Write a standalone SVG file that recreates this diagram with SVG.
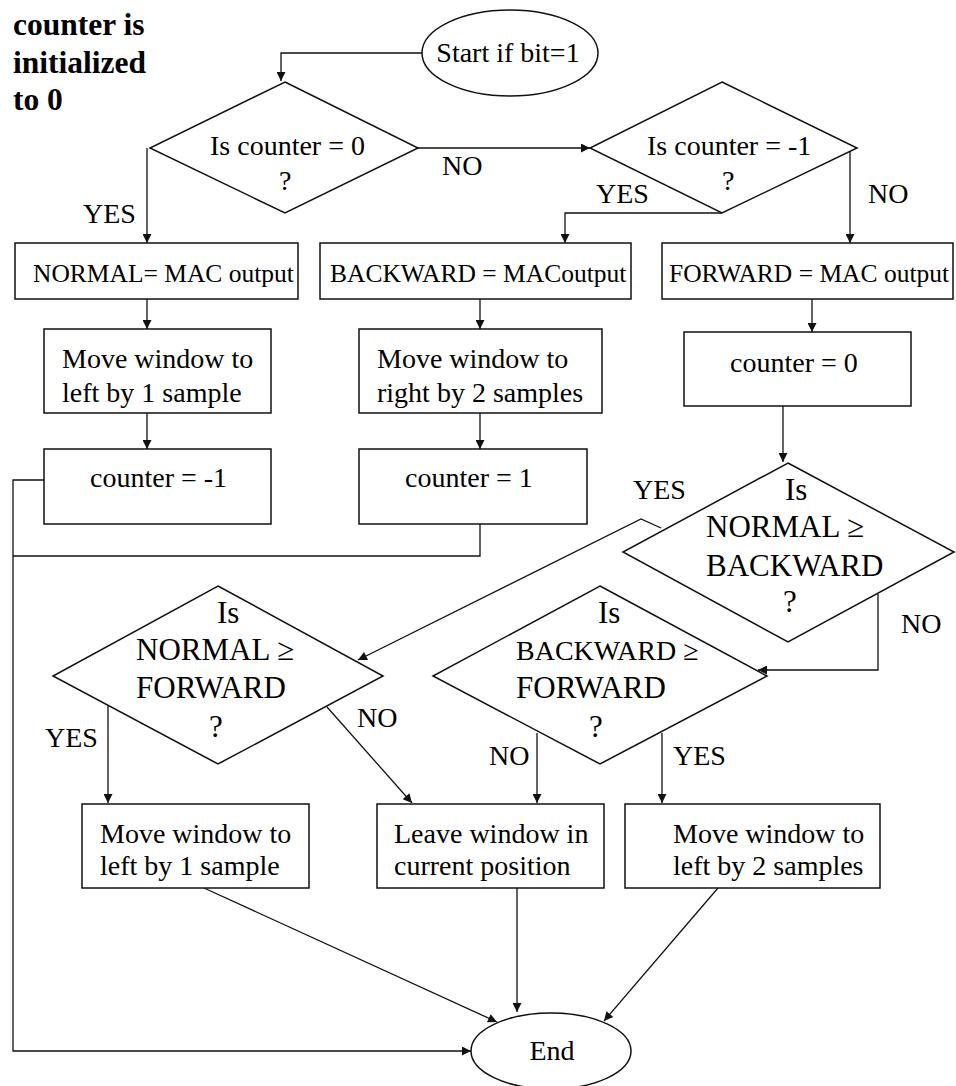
<svg xmlns="http://www.w3.org/2000/svg" width="956" height="1086" viewBox="0 0 956 1086">
  <style>
    .shape { fill: #fff; stroke: #111; stroke-width: 1.5; }
    .wire { fill: none; stroke: #111; stroke-width: 1.3; }
    .t { font-family: "Liberation Serif", "Times New Roman", serif; font-size: 28px; fill: #000; }
    .t25 { font-family: "Liberation Serif", "Times New Roman", serif; font-size: 25.5px; fill: #000; }
    .t31 { font-family: "Liberation Serif", "Times New Roman", serif; font-size: 31px; fill: #000; }
    .note { font-family: "Liberation Serif", "Times New Roman", serif; font-size: 31.5px; font-weight: bold; fill: #000; }
  </style>
  <defs>
    <marker id="arrow" viewBox="0 0 10 10" refX="10" refY="5" markerWidth="11" markerHeight="9" markerUnits="userSpaceOnUse" orient="auto">
      <path d="M0,0 L10,5 L0,10 Z" fill="#111"/>
    </marker>
  </defs>
  <rect width="956" height="1086" fill="#fff"/>

  <!-- side note -->
  <g id="note">
    <text class="note" x="13" y="35">counter is</text>
    <text class="note" x="13" y="73">initialized</text>
    <text class="note" x="13" y="110">to 0</text>
  </g>

  <!-- connectors -->
  <g id="connectors">
    <polyline class="wire" points="422,53 281,53 281,81" marker-end="url(#arrow)"/>
    <line class="wire" x1="418" y1="148" x2="590" y2="148" marker-end="url(#arrow)"/>
    <line class="wire" x1="147" y1="148" x2="147" y2="243" marker-end="url(#arrow)"/>
    <polyline class="wire" points="722,213 565,213 565,243" marker-end="url(#arrow)"/>
    <line class="wire" x1="850" y1="150" x2="850" y2="243" marker-end="url(#arrow)"/>
    <line class="wire" x1="147" y1="299" x2="147" y2="329" marker-end="url(#arrow)"/>
    <line class="wire" x1="147" y1="413" x2="147" y2="449" marker-end="url(#arrow)"/>
    <line class="wire" x1="480" y1="299" x2="480" y2="329" marker-end="url(#arrow)"/>
    <line class="wire" x1="480" y1="413" x2="480" y2="449" marker-end="url(#arrow)"/>
    <line class="wire" x1="812" y1="299" x2="812" y2="332" marker-end="url(#arrow)"/>
    <line class="wire" x1="783" y1="406" x2="783" y2="462" marker-end="url(#arrow)"/>
    <polyline class="wire" points="661,528 641,519 358,660" marker-end="url(#arrow)"/>
    <polyline class="wire" points="878,594 878,670 758,670" marker-end="url(#arrow)"/>
    <line class="wire" x1="108" y1="706" x2="108" y2="803" marker-end="url(#arrow)"/>
    <line class="wire" x1="327" y1="707" x2="412" y2="803" marker-end="url(#arrow)"/>
    <line class="wire" x1="537" y1="733" x2="537" y2="803" marker-end="url(#arrow)"/>
    <line class="wire" x1="662" y1="733" x2="662" y2="803" marker-end="url(#arrow)"/>
    <polyline class="wire" points="44,480 13,480 13,1051 471,1051" marker-end="url(#arrow)"/>
    <polyline class="wire" points="480,524 480,556 13,556"/>
    <line class="wire" x1="204" y1="888" x2="497" y2="1022" marker-end="url(#arrow)"/>
    <line class="wire" x1="517" y1="888" x2="517" y2="1012" marker-end="url(#arrow)"/>
    <line class="wire" x1="718" y1="888" x2="604" y2="1021" marker-end="url(#arrow)"/>
  </g>

  <!-- branch labels -->
  <g id="labels">
    <text class="t" x="442" y="175">NO</text>
    <text class="t" x="83" y="223">YES</text>
    <text class="t" x="596" y="203">YES</text>
    <text class="t" x="868" y="203">NO</text>
    <text class="t" x="633" y="499">YES</text>
    <text class="t" x="901" y="633">NO</text>
    <text class="t" x="45" y="747">YES</text>
    <text class="t" x="357" y="727">NO</text>
    <text class="t" x="489" y="765">NO</text>
    <text class="t" x="673" y="765">YES</text>
  </g>

  <g id="start">
    <ellipse class="shape" cx="510" cy="53" rx="88" ry="43"/>
    <text class="t" x="508" y="62" text-anchor="middle">Start if bit=1</text>
  </g>

  <g id="check-zero">
    <polygon class="shape" points="285,82 418,148 285,213 150,148"/>
    <text class="t" x="210" y="155">Is counter = 0</text>
    <text class="t" x="279" y="190">?</text>
  </g>

  <g id="check-minus-one">
    <polygon class="shape" points="722,82 857,148 722,213 590,148"/>
    <text class="t" x="647" y="155">Is counter = -1</text>
    <text class="t" x="722" y="190">?</text>
  </g>

  <g id="normal-store">
    <rect class="shape" x="15" y="243" width="283" height="56"/>
    <text class="t25" x="33" y="282">NORMAL= MAC output</text>
  </g>

  <g id="backward-store">
    <rect class="shape" x="320" y="243" width="311" height="56"/>
    <text class="t25" x="330" y="282">BACKWARD = MACoutput</text>
  </g>

  <g id="forward-store">
    <rect class="shape" x="662" y="243" width="291" height="56"/>
    <text class="t25" x="669" y="282">FORWARD = MAC output</text>
  </g>

  <g id="shift-left-1a">
    <rect class="shape" x="44" y="329" width="227" height="84"/>
    <text class="t" x="62" y="368">Move window to</text>
    <text class="t" x="62" y="402">left by 1 sample</text>
  </g>

  <g id="shift-right-2">
    <rect class="shape" x="359" y="329" width="243" height="84"/>
    <text class="t" x="377" y="368">Move window to</text>
    <text class="t" x="377" y="402">right by 2 samples</text>
  </g>

  <g id="reset-counter">
    <rect class="shape" x="684" y="332" width="227" height="74"/>
    <text class="t" x="730" y="372">counter = 0</text>
  </g>

  <g id="set-minus-one">
    <rect class="shape" x="44" y="449" width="227" height="75"/>
    <text class="t" x="90" y="487">counter = -1</text>
  </g>

  <g id="set-one">
    <rect class="shape" x="359" y="449" width="228" height="75"/>
    <text class="t" x="405" y="487">counter = 1</text>
  </g>

  <g id="cmp-normal-backward">
    <polygon class="shape" points="788,463 954,552 788,642 623,552"/>
    <text class="t31" x="785" y="500">Is</text>
    <text class="t31" x="706" y="537">NORMAL ≥</text>
    <text class="t31" x="706" y="576">BACKWARD</text>
    <text class="t31" x="783" y="612">?</text>
  </g>

  <g id="cmp-normal-forward">
    <polygon class="shape" points="218,586 383,676 218,764 53,676"/>
    <text class="t31" x="217" y="623">Is</text>
    <text class="t31" x="136" y="660">NORMAL ≥</text>
    <text class="t31" x="136" y="698">FORWARD</text>
    <text class="t31" x="209" y="737">?</text>
  </g>

  <g id="cmp-backward-forward">
    <polygon class="shape" points="600,586 767,676 600,764 433,676"/>
    <text class="t31" x="598" y="623">Is</text>
    <text class="t" x="516" y="660">BACKWARD ≥</text>
    <text class="t31" x="516" y="698">FORWARD</text>
    <text class="t31" x="589" y="737">?</text>
  </g>

  <g id="shift-left-1b">
    <rect class="shape" x="82" y="804" width="227" height="84"/>
    <text class="t" x="100" y="843">Move window to</text>
    <text class="t" x="100" y="875">left by 1 sample</text>
  </g>

  <g id="hold">
    <rect class="shape" x="377" y="804" width="227" height="84"/>
    <text class="t" x="394" y="843">Leave window in</text>
    <text class="t" x="394" y="875">current position</text>
  </g>

  <g id="shift-left-2">
    <rect class="shape" x="625" y="804" width="255" height="84"/>
    <text class="t" x="673" y="843">Move window to</text>
    <text class="t" x="673" y="875">left by 2 samples</text>
  </g>

  <g id="end">
    <ellipse class="shape" cx="551" cy="1051" rx="80" ry="38"/>
    <text class="t" x="552" y="1060" text-anchor="middle">End</text>
  </g>
</svg>
